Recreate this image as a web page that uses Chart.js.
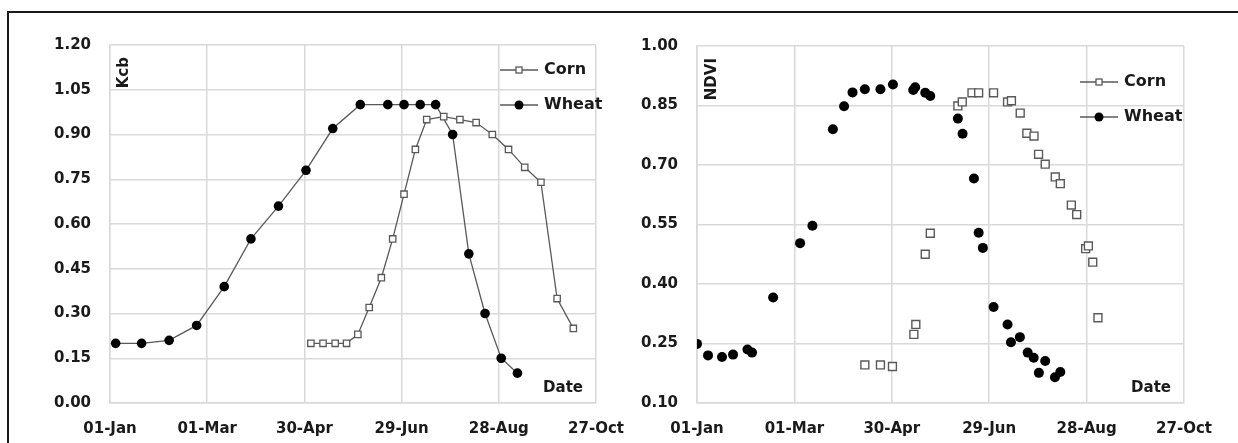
<!DOCTYPE html>
<html lang="en">
<head>
  <meta charset="UTF-8">
  <title>Kcb and NDVI of corn and wheat</title>
  <script src="https://cdn.jsdelivr.net/npm/chart.js"></script>
  <style>
    body {
      margin: 0;
      background: #fff;
    }

    .figure {
      position: relative;
      width: 1238px;
      height: 443px;
      overflow: hidden;
    }

    /* outer frame, only top and left edges are visible */
    .frame {
      position: absolute;
      left: 7px;
      top: 11px;
      right: -10px;
      bottom: -10px;
      border-top: 2px solid #1a1a1a;
      border-left: 2px solid #1a1a1a;
    }

    canvas {
      position: absolute;
      left: 0;
      top: 0;
    }
  </style>
</head>
<body>
  <div class="figure">
    <div class="frame"></div>
    <canvas id="kcbChart" width="1238" height="443"></canvas>
    <canvas id="ndviChart" width="1238" height="443"></canvas>
  </div>

  <script>
    // x axis: days since 01-Jan, one tick every 60 days
    const dayTicks = [0, 60, 120, 180, 240, 300];
    const dateTicks = ['01-Jan', '01-Mar', '30-Apr', '29-Jun', '28-Aug', '27-Oct'];

    const kcbTicks = [0, 0.15, 0.30, 0.45, 0.60, 0.75, 0.90, 1.05, 1.20];
    const ndviTicks = [0.10, 0.25, 0.40, 0.55, 0.70, 0.85, 1.00];

    // Kcb curves
    const kcbCornDays = [124, 131.5, 139, 146, 153, 160, 167.5, 174.5, 181.5, 188.5, 195.5, 206, 216, 226, 236, 246, 256, 266, 276, 286];
    const kcbCornValues = [0.20, 0.20, 0.20, 0.20, 0.23, 0.32, 0.42, 0.55, 0.70, 0.85, 0.95, 0.96, 0.95, 0.94, 0.90, 0.85, 0.79, 0.74, 0.35, 0.25];
    const kcbWheatDays = [3.5, 19.5, 36.5, 53.5, 70.5, 87, 104, 121, 137.5, 154.5, 171.5, 181.5, 191.5, 201, 211.5, 221.5, 231.5, 241.5, 251.5];
    const kcbWheatValues = [0.20, 0.20, 0.21, 0.26, 0.39, 0.55, 0.66, 0.78, 0.92, 1.00, 1.00, 1.00, 1.00, 1.00, 0.90, 0.50, 0.30, 0.15, 0.10];

    // NDVI observations
    const ndviCornDays = [103.4, 113, 120.4, 133.6, 134.8, 140.6, 143.7, 160.7, 163.4, 169.4, 173.5, 182.7, 191.3, 193.7, 199.1, 203.2, 207.6, 210.4, 214.5, 220.7, 223.8, 230.6, 233.9, 239.4, 241.1, 243.8, 247];
    const ndviCornValues = [0.196, 0.196, 0.192, 0.273, 0.298, 0.475, 0.528, 0.849, 0.859, 0.882, 0.882, 0.882, 0.859, 0.862, 0.831, 0.780, 0.773, 0.727, 0.702, 0.670, 0.653, 0.599, 0.575, 0.489, 0.496, 0.455, 0.315];
    const ndviWheatDays = [0, 6.8, 15.4, 22.2, 31.1, 33.9, 46.9, 63.5, 71.1, 83.7, 90.6, 95.8, 103.4, 113, 120.7, 133.2, 134.4, 140.6, 143.7, 160.7, 163.6, 170.6, 173.5, 176.1, 182.7, 191.3, 193.4, 198.9, 203.7, 207.4, 214.5, 210.6, 220.5, 223.8];
    const ndviWheatValues = [0.249, 0.220, 0.216, 0.222, 0.235, 0.227, 0.366, 0.503, 0.547, 0.790, 0.848, 0.883, 0.891, 0.891, 0.903, 0.889, 0.896, 0.882, 0.874, 0.817, 0.779, 0.666, 0.529, 0.491, 0.342, 0.298, 0.253, 0.266, 0.227, 0.214, 0.206, 0.176, 0.165, 0.178];

    const TEXT = '#1a1a1a';
    const GRID = '#d9d9d9';
    const LINE = '#595959';
    const FONT_FAMILY = '"DejaVu Sans", sans-serif';

    const toPoints = (xs, ys) => xs.map((x, i) => ({ x: x, y: ys[i] }));

    // axis titles, "Date" label and the line-marker-line legend
    const decorPlugin = {
      id: 'decor',
      afterDraw(chart, args, opts) {
        const { ctx, chartArea } = chart;
        ctx.save();
        ctx.fillStyle = TEXT;
        ctx.font = 'bold 15px ' + FONT_FAMILY;

        // rotated y title inside the plot, top-left corner
        ctx.save();
        ctx.translate(chartArea.left + opts.yTitleDx, chartArea.top + 12);
        ctx.rotate(-Math.PI / 2);
        ctx.textAlign = 'right';
        ctx.textBaseline = 'middle';
        ctx.fillText(opts.yTitle, 0, 0);
        ctx.restore();

        // x title bottom-right inside the plot
        ctx.textAlign = 'right';
        ctx.textBaseline = 'middle';
        ctx.fillText('Date', chartArea.right - 13, chartArea.bottom - 15);

        // legend
        ctx.font = 'bold 16px ' + FONT_FAMILY;
        ctx.textAlign = 'left';
        chart.data.datasets.forEach((ds, i) => {
          const y = opts.legendY + i * 35;
          const x0 = opts.legendX;
          const x1 = x0 + 38;
          const xm = (x0 + x1) / 2;
          ctx.strokeStyle = LINE;
          ctx.lineWidth = 1.3;
          ctx.beginPath();
          ctx.moveTo(x0, y);
          ctx.lineTo(x1, y);
          ctx.stroke();
          if (ds.pointStyle === 'rect') {
            ctx.fillStyle = '#fff';
            ctx.fillRect(xm - 3, y - 3, 6, 6);
            ctx.strokeRect(xm - 3, y - 3, 6, 6);
          } else {
            ctx.fillStyle = '#000';
            ctx.beginPath();
            ctx.arc(xm, y, 4.5, 0, Math.PI * 2);
            ctx.fill();
          }
          ctx.fillStyle = TEXT;
          ctx.fillText(ds.label, x1 + 6, y);
        });
        ctx.restore();
      },
    };

    function makeOptions(cfg) {
      return {
        responsive: false,
        animation: false,
        layout: { padding: cfg.padding },
        plugins: {
          legend: { display: false },
          tooltip: { enabled: false },
          decor: cfg.decor,
        },
        scales: {
          x: {
            type: 'linear',
            min: 0,
            max: 300,
            afterBuildTicks: (scale) => {
              scale.ticks = dayTicks.map(v => ({ value: v }));
            },
            afterFit: (scale) => {
              scale.height = 40;
            },
            grid: { color: GRID, lineWidth: 1.5, drawTicks: false },
            border: { color: GRID, width: 1.5 },
            ticks: {
              padding: 17,
              color: TEXT,
              autoSkip: false,
              maxRotation: 0,
              font: { family: FONT_FAMILY, size: 15, weight: 'bold' },
              callback: (value, index) => dateTicks[index],
            },
          },
          y: {
            min: cfg.yTicks[0],
            max: cfg.yTicks[cfg.yTicks.length - 1],
            afterBuildTicks: (scale) => {
              scale.ticks = cfg.yTicks.map(v => ({ value: v }));
            },
            afterFit: (scale) => {
              scale.width = 110;
            },
            grid: { color: GRID, lineWidth: 1.5, drawTicks: false },
            border: { color: GRID, width: 1.5 },
            ticks: {
              padding: 19,
              color: TEXT,
              font: { family: FONT_FAMILY, size: 15, weight: 'bold' },
              callback: (value) => value.toFixed(2),
            },
          },
        },
      };
    }

    // left panel: crop coefficient
    new Chart(document.getElementById('kcbChart'), {
      type: 'scatter',
      data: {
        datasets: [
          {
            label: 'Corn',
            data: toPoints(kcbCornDays, kcbCornValues),
            showLine: true,
            borderColor: LINE,
            borderWidth: 1.3,
            pointStyle: 'rect',
            pointRadius: 4.5,
            pointBackgroundColor: '#fff',
            pointBorderColor: LINE,
            pointBorderWidth: 1.3,
          },
          {
            label: 'Wheat',
            data: toPoints(kcbWheatDays, kcbWheatValues),
            showLine: true,
            borderColor: LINE,
            borderWidth: 1.3,
            pointStyle: 'circle',
            pointRadius: 4.8,
            pointBackgroundColor: '#000',
            pointBorderColor: '#000',
            pointBorderWidth: 0,
          },
        ],
      },
      options: makeOptions({
        padding: { left: 0, top: 45, right: 642, bottom: 0 },
        yTicks: kcbTicks,
        decor: { yTitle: 'Kcb', yTitleDx: 14, legendX: 500, legendY: 70 },
      }),
      plugins: [decorPlugin],
    });

    // right panel: NDVI
    new Chart(document.getElementById('ndviChart'), {
      type: 'scatter',
      data: {
        datasets: [
          {
            label: 'Corn',
            data: toPoints(ndviCornDays, ndviCornValues),
            showLine: false,
            pointStyle: 'rect',
            pointRadius: 5.6,
            pointBackgroundColor: '#fff',
            pointBorderColor: LINE,
            pointBorderWidth: 1.4,
          },
          {
            label: 'Wheat',
            data: toPoints(ndviWheatDays, ndviWheatValues),
            showLine: false,
            pointStyle: 'circle',
            pointRadius: 5,
            pointBackgroundColor: '#000',
            pointBorderColor: '#000',
            pointBorderWidth: 0,
          },
        ],
      },
      options: makeOptions({
        padding: { left: 587, top: 46, right: 54, bottom: 0 },
        yTicks: ndviTicks,
        decor: { yTitle: 'NDVI', yTitleDx: 15, legendX: 1080, legendY: 82 },
      }),
      plugins: [decorPlugin],
    });
  </script>
</body>
</html>
